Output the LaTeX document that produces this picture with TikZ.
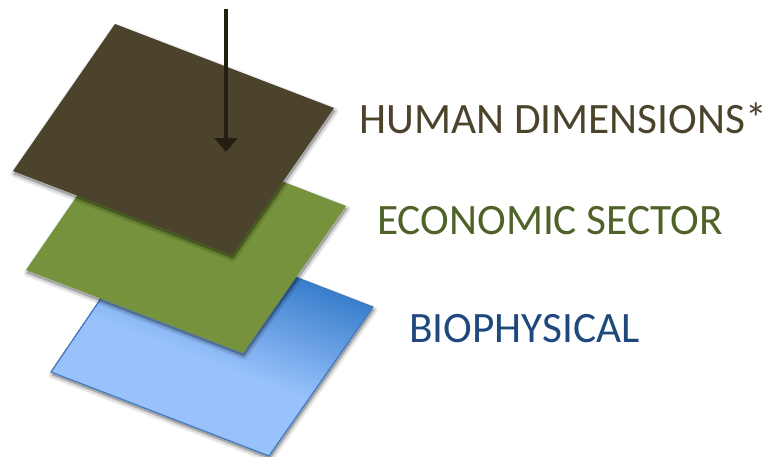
\documentclass[tikz,border=0pt]{standalone}
\usepackage{fontspec}
\setmainfont{Carlito}
\usetikzlibrary{arrows.meta}
\definecolor{darkplane}{HTML}{4B432B}
\definecolor{greenplane}{HTML}{76923C}
\definecolor{bluedeep}{HTML}{3A7FCC}
\definecolor{bluelight}{HTML}{99C2FC}
\definecolor{blueedge}{HTML}{4279BE}
\definecolor{arrowdark}{HTML}{231F11}
\definecolor{humantext}{HTML}{4B432B}
\definecolor{econtext}{HTML}{4F6228}
\definecolor{biotext}{HTML}{1F497D}
\newcommand{\softshadow}[1]{%
  \foreach \w in {8,7,6,5,4,3,2,1,0.2}{
    \fill[black,opacity=0.028,line width=\w*0.75pt,draw=black,line join=round,shift={(1,3)}] #1;
  }}
\tikzset{
  x=0.75pt,y=-0.75pt,
  label text/.style={font=\fontsize{32.5pt}{34pt}\selectfont,inner sep=0pt,anchor=base west},
}
\begin{document}
\begin{tikzpicture}
\useasboundingbox (0,0) rectangle (768,457);
% blue plane
\softshadow{(153,222) -- (373,307) -- (269,456) -- (51,372) -- cycle}
\begin{scope}
  \clip (153,222) -- (373,307) -- (269,456) -- (51,372) -- cycle;
  \fill[bluedeep] (0,200) rectangle (400,457);
  \foreach \i in {1,...,55}{
    \pgfmathsetmacro{\d}{\i*2}
    \pgfmathsetmacro{\pc}{\i/55*100}
    \fill[bluelight!\pc!bluedeep]
      ({373-0.36*\d-0.933*500},{307+0.933*\d-0.36*500}) --
      ({373-0.36*\d+0.933*300},{307+0.933*\d+0.36*300}) --
      ({373-0.36*300+0.933*300},{307+0.933*300+0.36*300}) --
      ({373-0.36*300-0.933*500},{307+0.933*300-0.36*500}) -- cycle;
  }
\end{scope}
\draw[blueedge,line width=0.9pt,line join=round] (153,222) -- (373,307) -- (269,456) -- (51,372) -- cycle;
% green plane
\softshadow{(128,122) -- (346,206) -- (243,353) -- (26,270) -- cycle}
\fill[greenplane] (128,122) -- (346,206) -- (243,353) -- (26,270) -- cycle;
% dark plane
\softshadow{(115,24) -- (334,108) -- (232,255) -- (13,171) -- cycle}
\fill[darkplane] (115,24) -- (334,108) -- (232,255) -- (13,171) -- cycle;
% arrow
\coordinate (arrowstart) at (226,9);
\coordinate (arrowend) at (226,152);
\draw[arrowdark,line width=3.7pt,-{Triangle[width=17pt,length=10.5pt]}] (arrowstart) -- (arrowend);
% labels
\node[label text,text=humantext] (human) at (359,133) {HUMAN DIMENSIONS*};
\node[label text,text=econtext] (econ) at (377,234) {ECONOMIC SECTOR};
\node[label text,text=biotext] (bio) at (409,342) {BIOPHYSICAL};
\end{tikzpicture}
\end{document}
